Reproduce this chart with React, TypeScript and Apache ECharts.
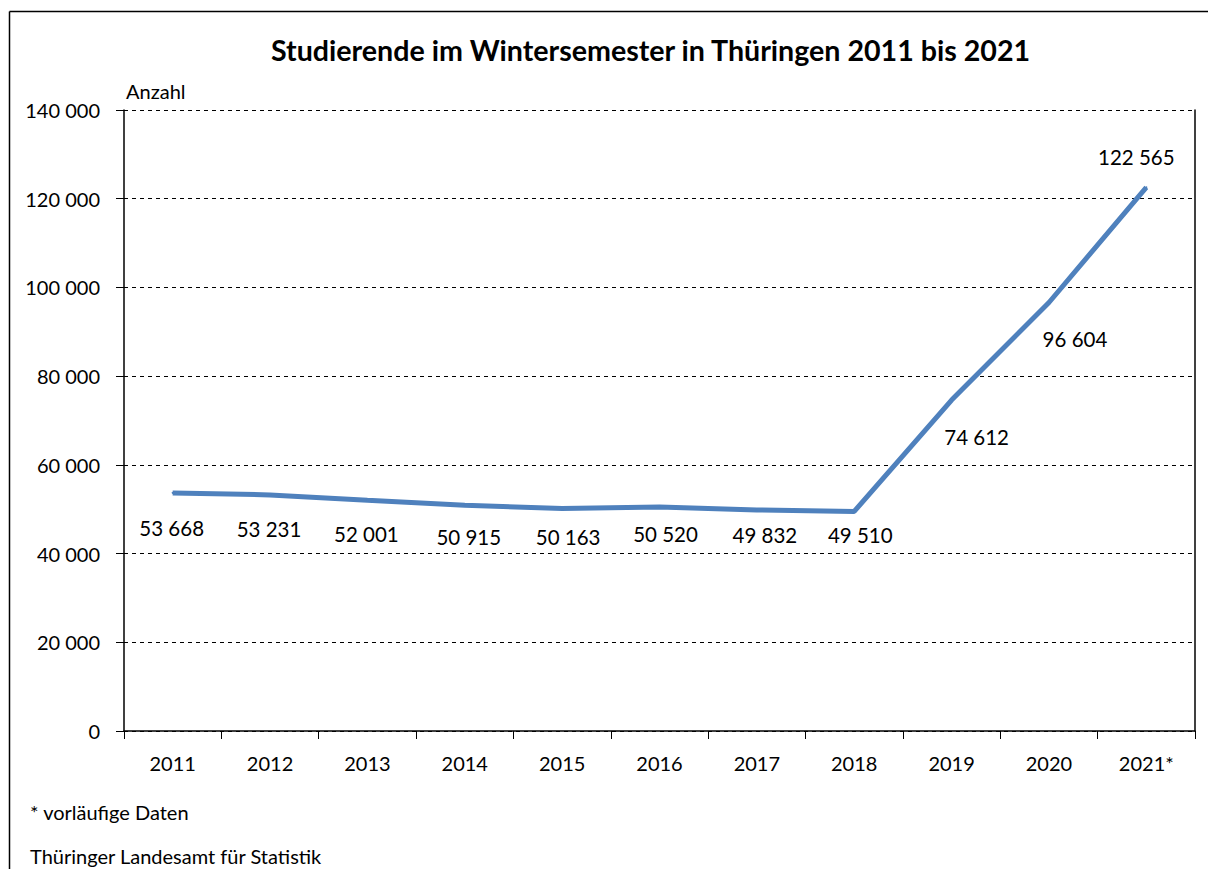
import React, { useEffect, useRef } from "react";
import * as echarts from "echarts";

const years = ["2011", "2012", "2013", "2014", "2015", "2016", "2017", "2018", "2019", "2020", "2021*"];
const students = [53668, 53231, 52001, 50915, 50163, 50520, 49832, 49510, 74612, 96604, 122565];
const titleText = "Studierende im Wintersemester in Thüringen 2011 bis 2021";
const axisName = "Anzahl";
const footnote = "* vorläufige Daten";
const source = "Thüringer Landesamt für Statistik";

// label placement (style): offset of each value label from its point, in px
const labelOffsets = [
  [-1, 35], [-1, 34], [-1, 34], [4, 32], [6, 29], [6, 27], [8, 25], [6, 24], [25, 37], [26, 37], [-10, -30],
];

const FONT = "Lato, 'Noto Sans', sans-serif";
const LINE_COLOR = "#4F81BD";

function fmt(v: number): string {
  return String(v).replace(/\B(?=(\d{3})+(?!\d))/g, " ");
}

export default function App() {
  const ref = useRef<HTMLDivElement>(null);
  useEffect(() => {
    if (!ref.current) return;
    const chart = echarts.init(ref.current, undefined, { renderer: "svg" });
    const data = students.map((v, i) => ({
      value: v,
      label: { show: true, position: "inside", offset: labelOffsets[i] },
    }));
    chart.setOption({
      animation: false,
      textStyle: { fontFamily: FONT },
      title: {
        text: titleText,
        left: 266,
        top: 30,
        textStyle: { fontSize: 28.6, fontWeight: "bold", color: "#000", fontFamily: FONT },
      },
      grid: { left: 124, right: 13, top: 110, bottom: 138 },
      xAxis: {
        type: "category",
        data: years,
        boundaryGap: true,
        axisLine: { lineStyle: { color: "#000", width: 1.5 } },
        axisTick: { show: true, length: 8, lineStyle: { color: "#000" } },
        axisLabel: { color: "#000", fontSize: 20, margin: 22, fontFamily: FONT },
      },
      yAxis: [
        {
          type: "value",
          min: 0,
          max: 140000,
          interval: 20000,
          name: axisName,
          nameLocation: "end",
          nameGap: 9,
          nameTextStyle: { color: "#000", fontSize: 20, align: "left", padding: [0, 0, 0, 2], fontFamily: FONT },
          axisLine: { show: true, lineStyle: { color: "#000", width: 1.5 } },
          axisTick: { show: true, length: 8, lineStyle: { color: "#000" } },
          axisLabel: { color: "#000", fontSize: 20, margin: 24, formatter: (v: number) => fmt(v), fontFamily: FONT },
          splitLine: { show: true, lineStyle: { color: "#000", type: [4, 4], width: 1 } },
        },
        {
          type: "value",
          min: 0,
          max: 140000,
          interval: 20000,
          position: "right",
          axisLine: { show: true, lineStyle: { color: "#000", width: 1.5 } },
          axisTick: { show: false },
          axisLabel: { show: false },
          splitLine: { show: false },
        },
      ],
      series: [
        {
          type: "line",
          data,
          yAxisIndex: 0,
          symbol: "circle",
          symbolSize: 2,
          showSymbol: true,
          itemStyle: { color: LINE_COLOR },
          lineStyle: { color: LINE_COLOR, width: 5 },
          label: {
            show: true,
            color: "#000",
            fontSize: 20.5,
            fontFamily: FONT,
            formatter: (p: any) => fmt(p.value),
          },
        },
      ],
      graphic: [
        {
          type: "line",
          shape: { x1: 9.5, y1: 11.5, x2: 1208, y2: 11.5 },
          style: { stroke: "#000", lineWidth: 1.5 },
          silent: true,
        },
        {
          type: "line",
          shape: { x1: 9.5, y1: 11.5, x2: 9.5, y2: 869 },
          style: { stroke: "#000", lineWidth: 1.5 },
          silent: true,
        },
        {
          type: "text",
          left: 30,
          top: 802,
          style: { text: footnote, fontSize: 20, fill: "#000", fontFamily: FONT },
        },
        {
          type: "text",
          left: 30,
          top: 846,
          style: { text: source, fontSize: 20, fill: "#000", fontFamily: FONT },
        },
      ],
    });
    return () => chart.dispose();
  }, []);
  return (
    <div
      ref={ref}
      style={{ position: "absolute", left: 0, top: 0, width: 1208, height: 869 }}
    />
  );
}
